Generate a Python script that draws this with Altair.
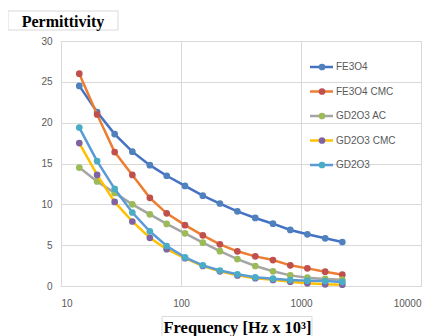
import altair as alt
import pandas as pd

# ---------------- data ----------------
freq = [14.2, 20, 28, 39.3, 55, 76, 108, 152, 211, 295, 416, 584, 814, 1130, 1590, 2210]

series_names = ["FE3O4", "FE3O4 CMC", "GD2O3 AC", "GD2O3 CMC", "GD2O3"]
fe3o4 = [24.5, 21.3, 18.6, 16.45, 14.8, 13.5, 12.25, 11.06, 10.1, 9.14, 8.33, 7.63, 6.86, 6.33, 5.84, 5.39]
fe3o4_cmc = [26.0, 21.0, 16.4, 13.6, 10.8, 8.9, 7.45, 6.2, 5.1, 4.25, 3.63, 3.18, 2.53, 2.16, 1.75, 1.39]
gd2o3_ac = [14.5, 12.8, 11.4, 10.0, 8.78, 7.6, 6.45, 5.3, 4.27, 3.3, 2.45, 1.8, 1.3, 1.02, 0.86, 0.78]
gd2o3_cmc = [17.5, 13.6, 10.3, 7.9, 5.9, 4.5, 3.4, 2.45, 1.8, 1.3, 0.95, 0.75, 0.53, 0.33, 0.2, 0.16]
gd2o3 = [19.4, 15.3, 11.9, 9.0, 6.7, 4.9, 3.5, 2.53, 1.9, 1.43, 1.06, 0.9, 0.73, 0.65, 0.6, 0.5]
series_values = [fe3o4, fe3o4_cmc, gd2o3_ac, gd2o3_cmc, gd2o3]

line_colors = ["#4472C4", "#ED7D31", "#A5A5A5", "#FFC000", "#5B9BD5"]
marker_colors = ["#4F81BD", "#C0504D", "#9BBB59", "#8064A2", "#4BACC6"]

x_ticks = [10, 100, 1000, 10000]
y_ticks = [0, 5, 10, 15, 20, 25, 30]

y_title = "Permittivity"
x_title = "Frequency [Hz x 10\u00b3]"

# ---------------- chart ----------------
GRID = "#d9d9d9"
LABEL = "#595959"

x_scale = alt.Scale(type="log", domain=[10, 10000])
y_scale = alt.Scale(domain=[0, 30])
x_axis = alt.Axis(values=x_ticks, format="d", title=None, grid=True, gridColor=GRID,
                  domain=False, ticks=False, labelPadding=12, labelFontSize=10,
                  labelFont="Liberation Sans", labelColor=LABEL)
y_axis = alt.Axis(values=y_ticks, title=None, grid=True, gridColor=GRID,
                  domain=False, ticks=False, labelPadding=9, labelFontSize=10,
                  labelFont="Liberation Sans", labelColor=LABEL)

data_layers = []
for i, (name, vals) in enumerate(zip(series_names, series_values)):
    df = pd.DataFrame({"freq": freq, "value": vals, "series": name})
    base = alt.Chart(df).encode(
        x=alt.X("freq:Q", scale=x_scale, axis=x_axis),
        y=alt.Y("value:Q", scale=y_scale, axis=y_axis),
    )
    data_layers.append(base.mark_line(color=line_colors[i], strokeWidth=2.5))
    data_layers.append(base.mark_point(filled=True, shape="circle", size=45,
                                       color=marker_colors[i], opacity=1))
data_chart = alt.layer(*data_layers)

legend_df = pd.DataFrame({
    "name": series_names,
    "row": list(range(len(series_names))),
    "line_color": line_colors,
    "marker_color": marker_colors,
})
legend_y = alt.Y("row:Q", scale=alt.Scale(domain=[0, 4], range=[26, 124]), axis=None)
leg_base = alt.Chart(legend_df)
legend_chart = alt.layer(
    leg_base.mark_rule(strokeWidth=2.5).encode(
        x=alt.value(249), x2=alt.value(272), y=legend_y,
        color=alt.Color("line_color:N", scale=None)),
    leg_base.mark_point(filled=True, shape="circle", size=45, opacity=1).encode(
        x=alt.value(261), y=legend_y,
        color=alt.Color("marker_color:N", scale=None)),
    leg_base.mark_text(align="left", baseline="middle", fontSize=10,
                       font="Liberation Sans", color=LABEL).encode(
        x=alt.value(275), y=legend_y, text="name:N"),
)

one = pd.DataFrame({"k": [0]})
deco = alt.layer(
    alt.Chart(one).mark_rect(fill="white", stroke=GRID, strokeWidth=1).encode(
        x=alt.value(-53), x2=alt.value(57), y=alt.value(-30), y2=alt.value(-11)),
    alt.Chart(one).mark_text(text=y_title, font="Liberation Serif", fontWeight="bold",
                             fontSize=16, align="center", baseline="alphabetic",
                             color="black").encode(
        x=alt.value(2), y=alt.value(-14.5)),
    alt.Chart(one).mark_rect(fill="white", stroke=GRID, strokeWidth=1).encode(
        x=alt.value(101), x2=alt.value(251), y=alt.value(275.5), y2=alt.value(305)),
    alt.Chart(one).mark_text(text=x_title, font="Liberation Serif", fontWeight="bold",
                             fontSize=16.5, align="center", baseline="alphabetic",
                             color="black").encode(
        x=alt.value(176.5), y=alt.value(291.5)),
)

chart = alt.layer(data_chart, legend_chart, deco).resolve_scale(
    y="independent"
).properties(
    width=360,
    height=245,
    padding={"left": 53, "top": 33, "right": 8, "bottom": 50},
    autosize=alt.AutoSizeParams(type="none"),
    background="white",
).configure_view(stroke=None)

chart.save("out.html", embed_options={"renderer": "svg", "actions": False})
